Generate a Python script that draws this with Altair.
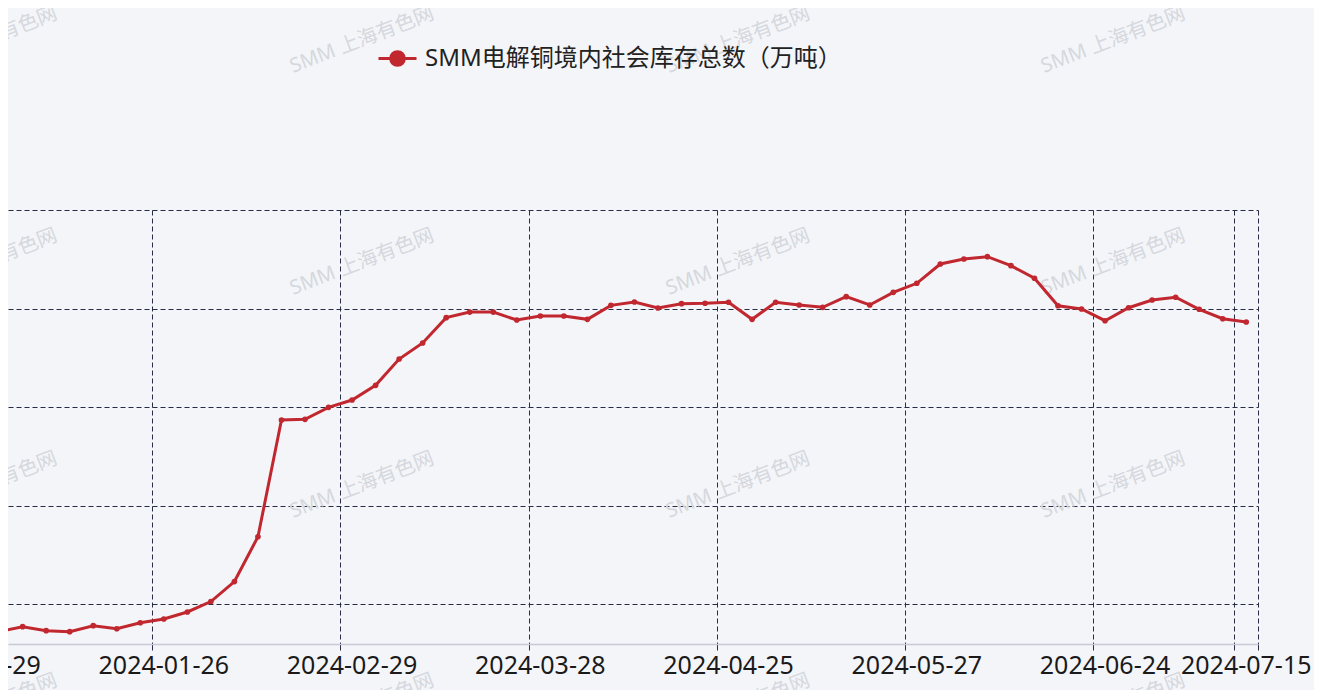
import altair as alt
import pandas as pd

# ---- data ----
series_name = "SMM电解铜境内社会库存总数（万吨）"
inventory = [
    7.19, 7.70, 7.29, 7.19, 7.80, 7.49, 8.10, 8.48, 9.19, 10.25,
    12.28, 16.83, 28.68, 28.75, 29.97, 30.71, 32.20, 34.87, 36.50, 39.07,
    39.64, 39.64, 38.83, 39.24, 39.24, 38.90, 40.32, 40.66, 40.05, 40.49,
    40.53, 40.63, 38.90, 40.63, 40.36, 40.12, 41.20, 40.36, 41.64, 42.56,
    44.52, 45.03, 45.26, 44.35, 43.07, 40.28, 39.95, 38.76, 40.08, 40.86,
    41.14, 39.92, 38.96, 38.63,
]
label_dates = ["2023-12-29", "2024-01-26", "2024-02-29", "2024-03-28",
               "2024-04-25", "2024-05-27", "2024-06-24", "2024-07-15"]
label_index = [-1, 7, 15, 23, 31, 39, 47, 53]
y_ticks = [10, 20, 30, 40, 50]
y_min, y_max = 5.94, 50
x_first_visible = 0.378

# watermark anchors (in data units)
wm_text = "SMM 上海有色网"
wm_x = [-0.59, 15.42, 31.40, 47.34]
wm_y = [67.26, 44.72, 22.08, -0.46]

# ---- tables ----
n = len(inventory)
df = pd.DataFrame({"i": list(range(n)), "v": inventory, "s": [series_name] * n})
lab = pd.DataFrame({"pos": label_index, "label": label_dates})
grid_x = [k - 0.5 for k in label_index] + [n - 0.5]
wm = pd.DataFrame([{"x": a, "y": b, "t": wm_text} for a in wm_x for b in wm_y])

W, H = 1250, 434
RED = "#c1272f"
GRID = "#262d44"
FONT = "Noto Sans, Noto Sans CJK SC"

xs = alt.Scale(domain=[x_first_visible, n - 0.5], nice=False, zero=False)
ys = alt.Scale(domain=[y_min, y_max], nice=False, zero=False)

x_axis = alt.Axis(values=grid_x, labels=False, title=None, grid=True,
                  gridColor=GRID, gridDash=[5, 3], gridWidth=1, gridOpacity=1,
                  ticks=True, tickSize=6, tickColor=GRID, tickWidth=1,
                  domain=True, domainColor="#c7c9d6", domainWidth=1.5)
y_axis = alt.Axis(values=y_ticks, labels=False, title=None, grid=True,
                  gridColor=GRID, gridDash=[5, 3], gridWidth=1, gridOpacity=1,
                  ticks=False, domain=False)

# legend symbol: line with a filled dot (concentric rings to fill)
sym = ("M-1,0L-0.36,0M0.36,0L1,0"
       "M-0.36,0A0.36,0.36 0 1,1 0.36,0A0.36,0.36 0 1,1 -0.36,0Z"
       "M-0.25,0A0.25,0.25 0 1,1 0.25,0A0.25,0.25 0 1,1 -0.25,0Z"
       "M-0.14,0A0.14,0.14 0 1,1 0.14,0A0.14,0.14 0 1,1 -0.14,0Z"
       "M-0.05,0A0.05,0.05 0 1,1 0.05,0A0.05,0.05 0 1,1 -0.05,0Z")

watermarks = alt.Chart(wm).mark_text(
    font=FONT, fontSize=20, color="#d5d8de", angle=339,
    align="center", baseline="middle"
).encode(
    x=alt.X("x:Q", scale=xs, axis=x_axis),
    y=alt.Y("y:Q", scale=ys, axis=y_axis),
    text="t:N",
)

line = alt.Chart(df).mark_line(strokeWidth=3, clip=True).encode(
    x=alt.X("i:Q", scale=xs),
    y=alt.Y("v:Q", scale=ys),
    color=alt.Color("s:N", scale=alt.Scale(range=[RED]),
                    legend=alt.Legend(
                        title=None, orient="none", legendX=369, legendY=-172,
                        symbolType=sym, symbolSize=1444, symbolStrokeWidth=3,
                        symbolStrokeColor=RED, symbolFillColor=RED,
                        labelFont=FONT, labelFontSize=24, labelColor="#222222",
                        labelOffset=7, padding=0, labelLimit=800)),
)

points = alt.Chart(df).mark_point(filled=True, size=32, clip=True, opacity=1,
                                  color=RED).encode(
    x=alt.X("i:Q", scale=xs),
    y=alt.Y("v:Q", scale=ys),
)

labels = alt.Chart(lab).mark_text(
    font=FONT, fontSize=25, color="#1a1a1a", align="center", baseline="middle"
).encode(
    x=alt.X("pos:Q", scale=xs),
    y=alt.value(H + 22),
    text="label:N",
)

chart = alt.layer(watermarks, line, points, labels).properties(
    width=W, height=H,
    background="#f4f5f8",
    padding={"left": 0, "top": 202, "right": 56, "bottom": 46},
    autosize=alt.AutoSizeParams(type="none"),
).configure_view(stroke=None)

chart.save("out.html", embed_options={"renderer": "svg", "actions": False})
